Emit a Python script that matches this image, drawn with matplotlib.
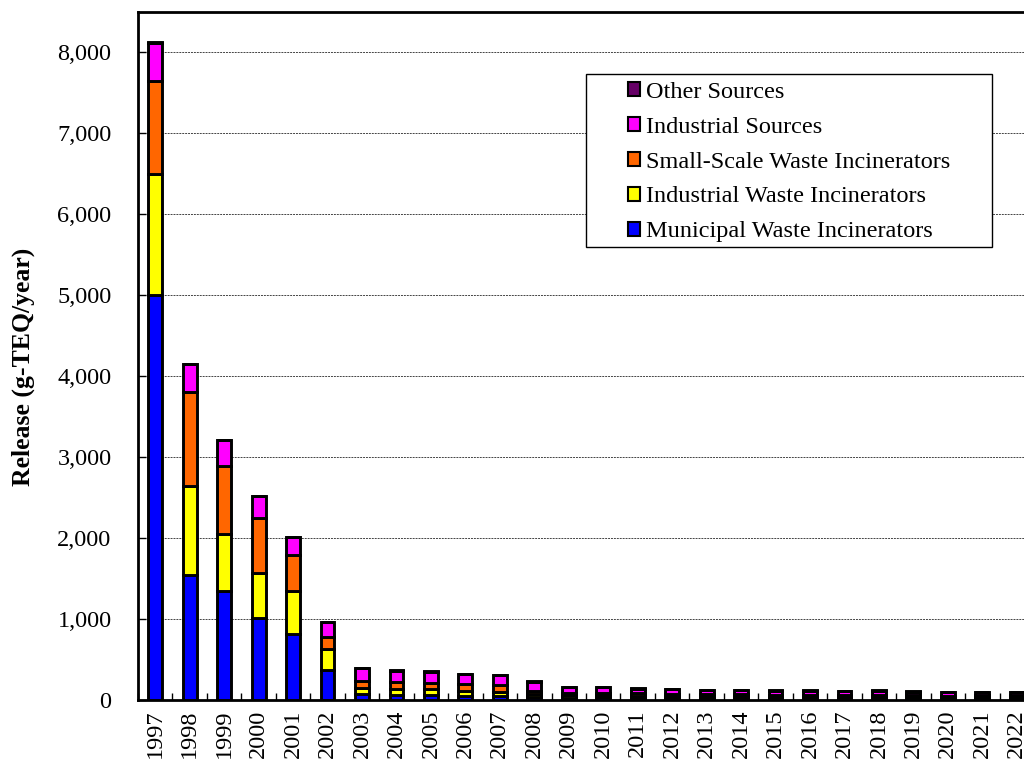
import matplotlib.pyplot as plt
from matplotlib.patches import Patch, Rectangle
import numpy as np

plt.rcParams["font.family"] = ["Liberation Serif", "DejaVu Serif"]

# Data (g-TEQ/year)
years = [str(y) for y in range(1997, 2023)]
municipal = [5000, 1550, 1350, 1019, 812, 370, 71, 64, 62, 54, 52, 36, 30,
             33, 30, 29, 27, 26, 25, 24, 22, 24, 21, 20, 20, 20]
industrial_waste = [1500, 1100, 700, 555, 533, 260, 75, 70, 73, 58, 51, 33, 26,
                    28, 25, 24, 22, 21, 21, 20, 19, 21, 18, 17, 18, 18]
small_scale = [1150, 1155, 840, 676, 452, 144, 90, 85, 80, 85, 80, 45, 30,
               30, 27, 25, 23, 22, 21, 21, 20, 20, 19, 18, 18, 18]
industrial_src = [470, 340, 320, 270, 213, 185, 160, 145, 135, 120, 120, 110, 70,
                  70, 57, 54, 52, 52, 50, 49, 45, 49, 46, 42, 43, 44]
other = [5, 5, 5, 5, 5, 5, 5, 5, 5, 5, 5, 5, 4,
         4, 4, 4, 4, 4, 4, 4, 4, 4, 4, 4, 4, 4]

series = [
    ("Municipal Waste Incinerators", municipal, "#0000FF"),
    ("Industrial Waste Incinerators", industrial_waste, "#FFFF00"),
    ("Small-Scale Waste Incinerators", small_scale, "#FF6600"),
    ("Industrial Sources", industrial_src, "#FF00FF"),
    ("Other Sources", other, "#660066"),
]

fig = plt.figure(figsize=(10.24, 7.6), dpi=100)
# axes runs slightly past the right edge, as in the reference
ax = fig.add_axes([138 / 1024, 60 / 760, 896 / 1024, 688 / 760])

x = np.arange(len(years))
bottom = np.zeros(len(years))
for name, vals, color in series:
    ax.bar(x, vals, width=0.4, bottom=bottom, color=color,
           edgecolor="black", linewidth=2.1, zorder=3)
    bottom += np.array(vals)

ax.set_xlim(-0.5, len(years) - 0.5)
ax.set_ylim(0, 8500)
ax.set_yticks(np.arange(0, 8001, 1000))
ax.set_yticklabels([f"{v:,}" for v in range(0, 8001, 1000)], fontsize=17.5)
ax.set_xticks(x)
ax.set_xticklabels(years, rotation=90, fontsize=17.5)
ax.set_xticks(np.arange(-0.5, len(years), 1), minor=True)
ax.tick_params(axis="x", which="major", length=0, pad=7)
ax.tick_params(axis="x", which="minor", direction="in", length=5, width=1)
ax.tick_params(axis="y", direction="in", length=6, width=1, pad=19)

for v in range(1000, 8001, 1000):
    ax.axhline(v, color="#444444", linestyle=(0, (2, 1)), linewidth=0.7, zorder=1)

for side in ["left", "bottom", "top"]:
    ax.spines[side].set_linewidth(2)
ax.spines["right"].set_visible(False)

ax.set_ylabel("Release (g-TEQ/year)", fontsize=18.5, fontweight="bold")
ax.yaxis.set_label_coords(-0.115, 0.484)

# legend box drawn separately so the padding matches
fig.patches.append(Rectangle((586 / 1024, 1 - 247 / 760), 406 / 1024, 173 / 760,
                             transform=fig.transFigure, facecolor="white",
                             edgecolor="black", linewidth=1, zorder=5))
handles = [Patch(facecolor=c, edgecolor="black", linewidth=1.5, label=n)
           for n, _, c in series[::-1]]
leg = fig.legend(handles=handles, loc="upper left",
                 bbox_to_anchor=(623 / 1024, 1 - 77 / 760), frameon=False,
                 fontsize=17.5, handlelength=0.5, handleheight=0.5,
                 handletextpad=0.25, labelspacing=0.57, borderpad=0.2,
                 borderaxespad=0)
leg.set_zorder(6)

fig.savefig("out.png", dpi=100, facecolor="white")
